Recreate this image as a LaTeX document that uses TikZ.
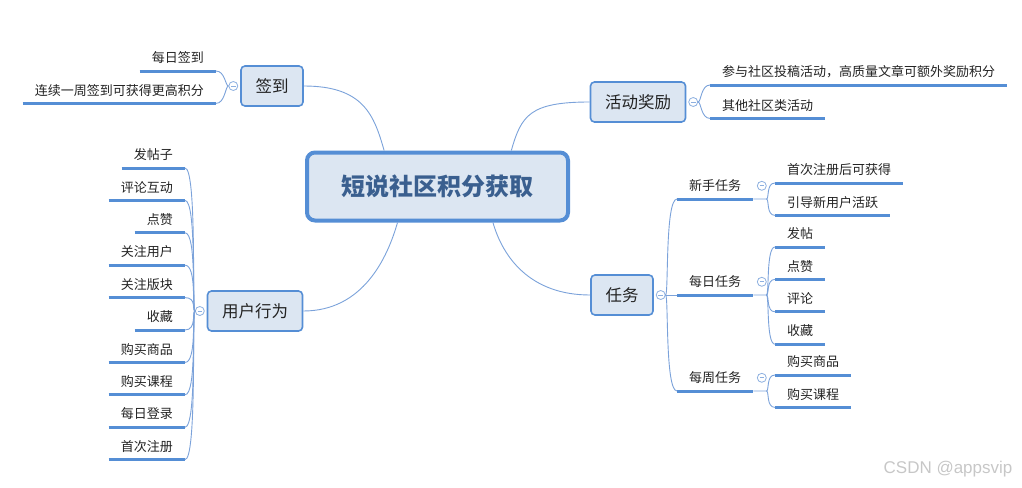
\documentclass[tikz,border=0pt]{standalone}
\usepackage{fontspec}
\setmainfont{Noto Sans CJK SC}
\newfontfamily\wmfont{Liberation Sans}
\usepackage{tikz}
\usetikzlibrary{positioning}
\definecolor{mmblue}{HTML}{558ED5}
\definecolor{mmfill}{HTML}{DCE6F2}
\definecolor{mmlink}{HTML}{7BA2DA}
\definecolor{mmtoggle}{HTML}{8DB0E0}
\definecolor{mmtitle}{HTML}{3A5F8F}
\definecolor{mmtext}{HTML}{222222}

\begin{document}
\begin{tikzpicture}[
  x=1pt, y=-1pt,
  root/.style={draw=mmblue, line width=4pt, rounded corners=8pt, fill=mmfill, minimum width=261pt, minimum height=68pt, text=mmtitle, font=\fontsize{24}{28}\selectfont\bfseries},
  branch/.style={draw=mmblue, line width=1.6pt, rounded corners=4pt, fill=mmfill, minimum height=40pt, inner xsep=14.5pt, text=mmtext, font=\fontsize{16.5}{20}\selectfont},
  leaf/.style={inner xsep=12pt, inner ysep=0pt, minimum height=26pt, text=mmtext, font=\fontsize{13}{16}\selectfont, append after command={(\tikzlastnode.south west) edge[uline] (\tikzlastnode.south east)}},
  uline/.style={draw=mmblue, line width=3pt},
  toggle/.style={circle, draw=mmtoggle, fill=white, line width=0.8pt, minimum size=9pt, inner sep=0pt, path picture={\draw[mmtoggle, line width=0.8pt] ([xshift=2.2pt]path picture bounding box.west) -- ([xshift=-2.2pt]path picture bounding box.east);}},
  link/.style={draw=mmlink, line width=0.9pt},
  toleft/.style={out=180, in=0, out distance=3pt, in distance=#1},
  toright/.style={out=0, in=180, out distance=3pt, in distance=#1},
  wmark/.style={text=black!22, font=\wmfont\fontsize{17}{20}\selectfont}
]
  \useasboundingbox (0,0) rectangle (1022,487);

  \node[root] (root) at (437.5,186.5) {短说社区积分获取};

  \node[branch] (sg) at (272,86) {签到};
  \node[branch] (act) at (638,102) {活动奖励};
  \node[branch] (ub) at (255,311) {用户行为};
  \node[branch] (task) at (622,295) {任务};

  \node[toggle, left=2pt of sg] (sgt) {};
  \node[toggle, right=2pt of act] (actt) {};
  \node[toggle, left=2pt of ub] (ubt) {};
  \node[toggle, right=2pt of task] (taskt) {};

  \draw[link] (sg.east) .. controls +(60,0) and +(-10,-35) .. (root.146);
  \draw[link] (act.west) .. controls +(-60,0) and +(10,-35) .. (root.26);
  \draw[link] (ub.east) .. controls +(60,0) and +(-10,35) .. (root.222);
  \draw[link] (task.west) .. controls +(-60,0) and +(10,35) .. (root.327);

  % sign-in
  \node[leaf, anchor=south east] (s1) at (216,71) {每日签到};
  \node[leaf, below left=6pt and 0pt of s1.south east] (s2) {连续一周签到可获得更高积分};
  \draw[link] (sgt.west) to[toleft=9pt] (s1.south east);
  \draw[link] (sgt.west) to[toleft=9pt] (s2.south east);

  % activities
  \node[leaf, anchor=south west] (a1) at (710,85) {参与社区投稿活动，高质量文章可额外奖励积分};
  \node[leaf, below right=7pt and 0pt of a1.south west] (a2) {其他社区类活动};
  \draw[link] (actt.east) to[toright=9pt] (a1.south west);
  \draw[link] (actt.east) to[toright=9pt] (a2.south west);

  % user actions
  \node[leaf, anchor=south east] (u1) at (185,168) {发帖子};
  \node[leaf, below left=6pt and 0pt of u1.south east] (u2) {评论互动};
  \node[leaf, below left=6pt and 0pt of u2.south east] (u3) {点赞};
  \node[leaf, below left=6pt and 0pt of u3.south east] (u4) {关注用户};
  \node[leaf, below left=6pt and 0pt of u4.south east] (u5) {关注版块};
  \node[leaf, below left=6pt and 0pt of u5.south east] (u6) {收藏};
  \node[leaf, below left=6pt and 0pt of u6.south east] (u7) {购买商品};
  \node[leaf, below left=6pt and 0pt of u7.south east] (u8) {购买课程};
  \node[leaf, below left=6pt and 0pt of u8.south east] (u9) {每日登录};
  \node[leaf, below left=6pt and 0pt of u9.south east] (u10) {首次注册};
  \draw[link] (ubt.west) to[toleft=12pt] (u1.south east);
  \draw[link] (ubt.west) to[toleft=12pt] (u2.south east);
  \draw[link] (ubt.west) to[toleft=12pt] (u3.south east);
  \draw[link] (ubt.west) to[toleft=12pt] (u4.south east);
  \draw[link] (ubt.west) to[toleft=12pt] (u5.south east);
  \draw[link] (ubt.west) to[toleft=12pt] (u6.south east);
  \draw[link] (ubt.west) to[toleft=12pt] (u7.south east);
  \draw[link] (ubt.west) to[toleft=12pt] (u8.south east);
  \draw[link] (ubt.west) to[toleft=12pt] (u9.south east);
  \draw[link] (ubt.west) to[toleft=12pt] (u10.south east);

  % tasks
  \node[leaf, anchor=south west] (n1) at (677,199) {新手任务};
  \node[leaf, anchor=south west] (n2) at (677,295) {每日任务};
  \node[leaf, anchor=south west] (n3) at (677,391) {每周任务};
  \draw[link] (taskt.east) to[toright=12pt] (n1.south west);
  \draw[link] (taskt.east) -- (n2.south west);
  \draw[link] (taskt.east) to[toright=12pt] (n3.south west);

  \node[toggle, right=3.5pt of n1] (n1t) {};
  \node[toggle, right=3.5pt of n2] (n2t) {};
  \node[toggle, right=3.5pt of n3] (n3t) {};
  \coordinate[right=13pt of n1.south east] (n1j);
  \coordinate[right=13pt of n2.south east] (n2j);
  \coordinate[right=13pt of n3.south east] (n3j);

  \node[leaf, anchor=south west] (n1a) at (775,183) {首次注册后可获得};
  \node[leaf, below right=6pt and 0pt of n1a.south west] (n1b) {引导新用户活跃};
  \draw[link] (n1.south east) -- (n1j) to[toright=9pt] (n1a.south west);
  \draw[link] (n1j) to[toright=9pt] (n1b.south west);

  \node[leaf, anchor=south west] (n2a) at (775,247) {发帖};
  \node[leaf, below right=6pt and 0pt of n2a.south west] (n2b) {点赞};
  \node[leaf, below right=6pt and 0pt of n2b.south west] (n2c) {评论};
  \node[leaf, below right=6pt and 0pt of n2c.south west] (n2d) {收藏};
  \draw[link] (n2.south east) -- (n2j) to[toright=9pt] (n2a.south west);
  \draw[link] (n2j) to[toright=9pt] (n2b.south west);
  \draw[link] (n2j) to[toright=9pt] (n2c.south west);
  \draw[link] (n2j) to[toright=9pt] (n2d.south west);

  \node[leaf, anchor=south west] (n3a) at (775,375) {购买商品};
  \node[leaf, below right=6pt and 0pt of n3a.south west] (n3b) {购买课程};
  \draw[link] (n3.south east) -- (n3j) to[toright=9pt] (n3a.south west);
  \draw[link] (n3j) to[toright=9pt] (n3b.south west);

  \node[wmark] (wm) at (948,469) {CSDN @appsvip};
\end{tikzpicture}
\end{document}
